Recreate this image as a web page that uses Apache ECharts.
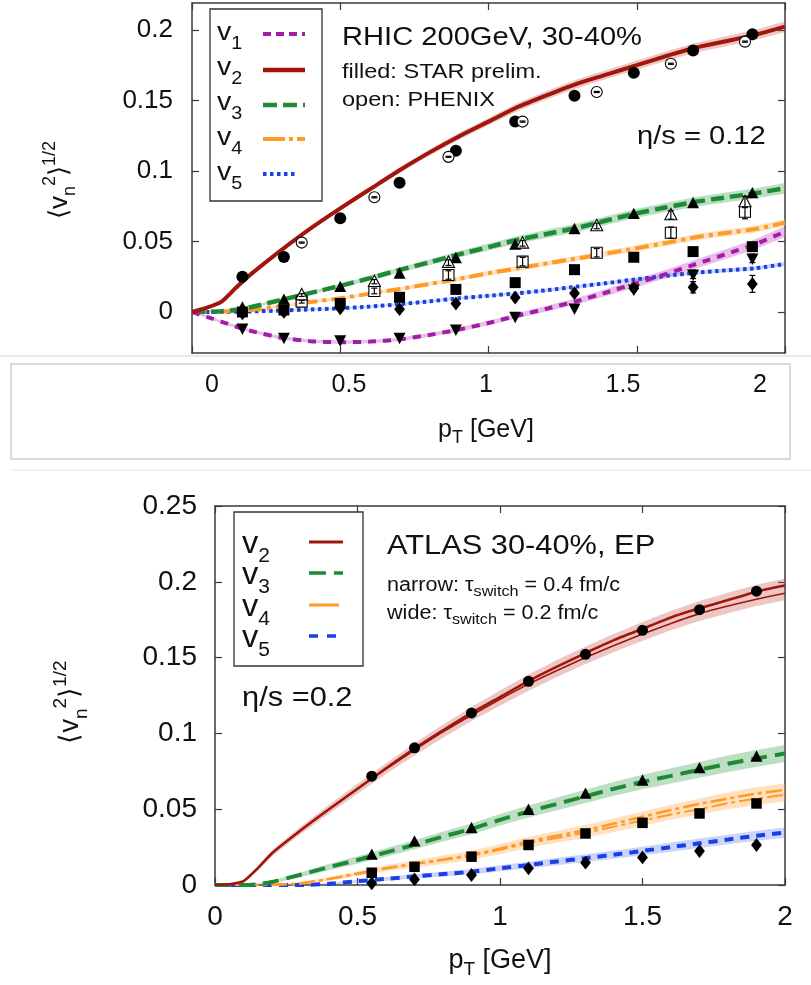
<!DOCTYPE html>
<html>
<head>
<meta charset="utf-8">
<script src="https://cdn.jsdelivr.net/npm/echarts@6/dist/echarts.min.js"></script>
<style>
html,body{margin:0;padding:0;background:#fff;}
#chart{width:811px;height:985px;}
</style>
</head>
<body>
<div id="chart"></div>
<script>
// ---------- model curves (common pT grid, GeV) ----------
const ptGrid = [0, 0.05, 0.1, 0.15, 0.2, 0.3, 0.4, 0.5, 0.6, 0.7, 0.8, 0.9, 1.0, 1.1, 1.2, 1.3, 1.4, 1.5, 1.6, 1.7, 1.8, 1.9, 2.0];

// RHIC 200 GeV, 30-40%, eta/s = 0.12
const rhicV1 = [0, -0.0035, -0.007, -0.0105, -0.0135, -0.0183, -0.0207, -0.0215, -0.021, -0.0195, -0.0163, -0.0125, -0.0078, -0.0025, 0.0025, 0.0078, 0.014, 0.0205, 0.027, 0.034, 0.041, 0.048, 0.057];
const rhicV2 = [0, 0.003, 0.0073, 0.0175, 0.027, 0.0437, 0.0593, 0.0735, 0.087, 0.1005, 0.113, 0.1245, 0.135, 0.1455, 0.154, 0.162, 0.1685, 0.175, 0.1815, 0.1875, 0.192, 0.1965, 0.2023];
const rhicV3 = [0, 0, 0.0005, 0.0015, 0.0035, 0.0085, 0.0135, 0.0185, 0.024, 0.0298, 0.0352, 0.0408, 0.046, 0.0512, 0.0555, 0.0597, 0.065, 0.070, 0.0742, 0.0782, 0.0812, 0.0842, 0.0877];
const rhicV4 = [0, 0, 0.0003, 0.0008, 0.0015, 0.004, 0.007, 0.0097, 0.013, 0.0163, 0.0198, 0.0235, 0.0275, 0.031, 0.0345, 0.038, 0.0415, 0.0452, 0.049, 0.053, 0.056, 0.0588, 0.0633];
const rhicV5 = [0, 0, 0, 0.0002, 0.0004, 0.001, 0.0018, 0.0026, 0.0038, 0.0055, 0.0075, 0.0097, 0.0115, 0.0133, 0.0155, 0.018, 0.0205, 0.0232, 0.0256, 0.0279, 0.0295, 0.031, 0.034];
// band half-widths
const rhicV1Hw = [0, 0.0008, 0.001, 0.001, 0.001, 0.0012, 0.0012, 0.0012, 0.0012, 0.0012, 0.0014, 0.0015, 0.0016, 0.0018, 0.002, 0.0022, 0.0025, 0.0028, 0.003, 0.0032, 0.0034, 0.0036, 0.0038];
const rhicV2Hw = [0, 0.0005, 0.001, 0.001, 0.0012, 0.0013, 0.0015, 0.0017, 0.0018, 0.002, 0.0022, 0.0024, 0.0026, 0.0028, 0.003, 0.0031, 0.0032, 0.0033, 0.0034, 0.0035, 0.0036, 0.0037, 0.0038];
const rhicV3Hw = [0, 0, 0.0005, 0.0007, 0.0009, 0.001, 0.0012, 0.0014, 0.0016, 0.0018, 0.002, 0.0022, 0.0025, 0.0027, 0.0029, 0.003, 0.0031, 0.0032, 0.0033, 0.0034, 0.0035, 0.0036, 0.0038];
const rhicV4Hw = [0, 0, 0.0003, 0.0005, 0.0006, 0.0008, 0.001, 0.0011, 0.0012, 0.0013, 0.0014, 0.0015, 0.0016, 0.0017, 0.0018, 0.0019, 0.002, 0.0021, 0.0022, 0.0022, 0.0023, 0.0024, 0.0024];
const rhicV5Hw = [0, 0, 0.0002, 0.0003, 0.0004, 0.0005, 0.0006, 0.0006, 0.0007, 0.0007, 0.0008, 0.0008, 0.0009, 0.0009, 0.001, 0.001, 0.0011, 0.0011, 0.0012, 0.0012, 0.0013, 0.0013, 0.0014];

// STAR preliminary (filled symbols)
const starPt = [0.17, 0.31, 0.50, 0.70, 0.89, 1.09, 1.29, 1.49, 1.69, 1.89];
const starV1 = [-0.0116, -0.0182, -0.0199, -0.0182, -0.0123, -0.0033, 0.0026, 0.016, 0.0267, 0.038];
const starV1Err = [0, 0, 0, 0, 0, 0, 0, 0.001, 0.003, 0.003];
const starV2 = [0.025, 0.039, 0.0664, 0.0917, 0.1144, 0.135, 0.1534, 0.1697, 0.1854, 0.197];
const starV3 = [0.003, 0.0085, 0.0175, 0.027, 0.038, 0.0475, 0.0586, 0.0693, 0.077, 0.084];
const starV4 = [0.0, 0.0014, 0.006, 0.0104, 0.016, 0.0208, 0.030, 0.0388, 0.0428, 0.0463];
const starV5 = [-0.001, 0.0, 0.0026, 0.002, 0.006, 0.0102, 0.0133, 0.0168, 0.0175, 0.0199];
const starV5Err = [0, 0, 0, 0, 0, 0, 0.001, 0.002, 0.004, 0.006];

// PHENIX (open symbols)
const phenixPt = [0.37, 0.615, 0.865, 1.115, 1.365, 1.615, 1.865];
const phenixV2 = [0.0492, 0.0813, 0.110, 0.135, 0.156, 0.176, 0.1917];
const phenixV2Err = [0.0004, 0.0004, 0.0004, 0.0004, 0.0004, 0.0004, 0.0004];
const phenixV3 = [0.012, 0.0215, 0.035, 0.0487, 0.061, 0.0688, 0.078];
const phenixV3Err = [0.001, 0.0015, 0.002, 0.002, 0.002, 0.003, 0.004];
const phenixV4 = [0.0073, 0.0149, 0.0262, 0.0357, 0.042, 0.0562, 0.0711];
const phenixV4Err = [0.001, 0.002, 0.003, 0.003, 0.003, 0.004, 0.005];

// ATLAS 30-40%, EP, eta/s = 0.2
const atlasPt = [0.55, 0.7, 0.9, 1.1, 1.3, 1.5, 1.7, 1.9];
const atlasV2 = [0.0718, 0.0905, 0.1135, 0.1344, 0.1522, 0.168, 0.1816, 0.1938];
const atlasV3 = [0.0198, 0.0285, 0.0373, 0.0494, 0.060, 0.0687, 0.0768, 0.0845];
const atlasV4 = [0.0081, 0.012, 0.0187, 0.0264, 0.034, 0.041, 0.0472, 0.0538];
const atlasV5 = [0.0011, 0.0037, 0.0066, 0.011, 0.0147, 0.0182, 0.0224, 0.0264];

// model: narrow = tau_switch 0.4 fm/c, wide = tau_switch 0.2 fm/c
const lhcV2Narrow = [0, 0.0005, 0.0025, 0.011, 0.021, 0.036, 0.050, 0.0635, 0.077, 0.090, 0.102, 0.1135, 0.124, 0.1345, 0.144, 0.153, 0.1615, 0.169, 0.1765, 0.1825, 0.188, 0.1935, 0.1975];
const lhcV2Wide = [0, 0.0005, 0.0025, 0.011, 0.021, 0.036, 0.050, 0.0635, 0.0765, 0.089, 0.101, 0.112, 0.1225, 0.1325, 0.1415, 0.150, 0.158, 0.1655, 0.1725, 0.179, 0.184, 0.1885, 0.1925];
const lhcV3 = [0, 0, 0, 0.0005, 0.002, 0.0068, 0.0118, 0.0165, 0.0215, 0.0265, 0.032, 0.037, 0.043, 0.0485, 0.0535, 0.0585, 0.0635, 0.068, 0.072, 0.076, 0.080, 0.0835, 0.0867];
const lhcV4Narrow = [0, 0, 0, 0, 0.0001, 0.001, 0.004, 0.0075, 0.011, 0.014, 0.0168, 0.0198, 0.024, 0.0288, 0.0325, 0.0362, 0.0405, 0.045, 0.0495, 0.0535, 0.057, 0.0603, 0.0627];
const lhcV4Wide = [0, 0, 0, 0, 0.0001, 0.001, 0.004, 0.0075, 0.011, 0.0138, 0.0165, 0.0193, 0.0233, 0.0275, 0.031, 0.0345, 0.0385, 0.0425, 0.0465, 0.050, 0.054, 0.057, 0.0595];
const lhcV5 = [0, 0, 0, 0, 0, 0, 0.0008, 0.0025, 0.004, 0.0057, 0.0072, 0.0088, 0.011, 0.0132, 0.0155, 0.0177, 0.020, 0.0225, 0.025, 0.0275, 0.030, 0.0325, 0.0345];
const lhcV2Hw = [0, 0.0005, 0.001, 0.0015, 0.002, 0.0025, 0.003, 0.0033, 0.0036, 0.004, 0.0043, 0.0046, 0.005, 0.0053, 0.0056, 0.0058, 0.006, 0.0062, 0.0064, 0.0066, 0.0068, 0.007, 0.0072];
const lhcV3Hw = [0, 0, 0, 0.0005, 0.001, 0.0015, 0.002, 0.0025, 0.0028, 0.003, 0.0033, 0.0035, 0.0038, 0.004, 0.0042, 0.0044, 0.0046, 0.0048, 0.005, 0.0052, 0.0054, 0.0055, 0.0056];
const lhcV4Hw = [0, 0, 0, 0, 0.0003, 0.0008, 0.0012, 0.0016, 0.002, 0.0024, 0.0028, 0.003, 0.0033, 0.0036, 0.0039, 0.0042, 0.0045, 0.0048, 0.005, 0.0053, 0.0056, 0.0058, 0.006];
const lhcV5Hw = [0, 0, 0, 0, 0, 0.0003, 0.0006, 0.001, 0.0012, 0.0014, 0.0016, 0.0018, 0.002, 0.0022, 0.0024, 0.0026, 0.0027, 0.0028, 0.003, 0.0031, 0.0032, 0.0033, 0.0034];

// tick labels
const rhicYTicks = [0, 0.05, 0.1, 0.15, 0.2];

// ---------- styling ----------
const FONT = '"Liberation Sans", Arial, Helvetica, sans-serif';
const INK = '#111';
const C = {
  v1: '#a21ca6', v2: '#a0160c', v3: '#1f8a36', v4: '#ff9b26', v5: '#1b3fe6',
  b1: 'rgba(205,110,210,0.45)', b2: 'rgba(200,80,70,0.32)', b3: 'rgba(80,170,100,0.38)',
  b4: 'rgba(255,170,80,0.35)', b5: 'rgba(90,125,235,0.32)'
};

function avg(a, b) { return a.map((v, i) => (v + b[i]) / 2); }

function band(xi, yi, xs, mid, hw, color) {
  const lo = mid.map((v, i) => v - hw[i]);
  const hi = mid.map((v, i) => v + hw[i]);
  return {
    type: 'custom', xAxisIndex: xi, yAxisIndex: yi, z: 1, silent: true, clip: true,
    data: xs.map((x, i) => [x, lo[i], hi[i]]),
    renderItem(params, api) {
      if (params.dataIndex !== 0) return null;
      const pts = [];
      for (let i = 0; i < xs.length; i++) pts.push(api.coord([xs[i], hi[i]]));
      for (let i = xs.length - 1; i >= 0; i--) pts.push(api.coord([xs[i], lo[i]]));
      return { type: 'polygon', shape: { points: pts }, style: { fill: color } };
    }
  };
}

function curve(xi, yi, xs, ys, color, width, dash, z) {
  return {
    type: 'line', xAxisIndex: xi, yAxisIndex: yi, z: z || 3, silent: true,
    data: xs.map((x, i) => [x, ys[i]]),
    showSymbol: false, symbol: 'none', smooth: 0.2,
    lineStyle: { color: color, width: width, type: dash || 'solid', cap: 'butt' }
  };
}

function markers(xi, yi, xs, ys, errs, shape, open, size) {
  return {
    type: 'custom', xAxisIndex: xi, yAxisIndex: yi, z: 6, silent: true, clip: false,
    data: xs.map((x, i) => [x, ys[i], errs ? errs[i] : 0]),
    renderItem(params, api) {
      const x = api.value(0), y = api.value(1), e = api.value(2);
      const p = api.coord([x, y]);
      const cx = p[0], cy = p[1], r = size / 2;
      const st = open ? { fill: '#fff', stroke: '#000', lineWidth: 1.1 } : { fill: '#000' };
      let shp;
      if (shape === 'circle') {
        shp = { type: 'circle', shape: { cx: cx, cy: cy, r: r }, style: st };
      } else if (shape === 'square') {
        shp = { type: 'rect', shape: { x: cx - r, y: cy - r, width: 2 * r, height: 2 * r }, style: st };
      } else if (shape === 'triangle') {
        shp = { type: 'polygon', shape: { points: [[cx, cy - r * 1.1], [cx + r, cy + r * 0.8], [cx - r, cy + r * 0.8]] }, style: st };
      } else if (shape === 'triangleDown') {
        shp = { type: 'polygon', shape: { points: [[cx, cy + r * 1.1], [cx + r, cy - r * 0.8], [cx - r, cy - r * 0.8]] }, style: st };
      } else {
        shp = { type: 'polygon', shape: { points: [[cx, cy - r * 1.15], [cx + r * 0.9, cy], [cx, cy + r * 1.15], [cx - r * 0.9, cy]] }, style: st };
      }
      const bars = [];
      if (e > 0) {
        const t = api.coord([x, y + e])[1], b = api.coord([x, y - e])[1];
        const ls = { stroke: '#000', lineWidth: 1.2 };
        bars.push({ type: 'line', shape: { x1: cx, y1: t, x2: cx, y2: b }, style: ls });
        bars.push({ type: 'line', shape: { x1: cx - 3, y1: t, x2: cx + 3, y2: t }, style: ls });
        bars.push({ type: 'line', shape: { x1: cx - 3, y1: b, x2: cx + 3, y2: b }, style: ls });
      }
      return { type: 'group', children: open ? [shp].concat(bars) : bars.concat([shp]) };
    }
  };
}

// rich-text styles: m = main, b = subscript, t = superscript
function rich(S, s, L, Ls) {
  const base = { fontFamily: FONT, fill: INK, color: INK };
  return {
    m: Object.assign({ fontSize: S, lineHeight: L }, base),
    b: Object.assign({ fontSize: s, lineHeight: Ls, verticalAlign: 'bottom' }, base),
    t: Object.assign({ fontSize: s, lineHeight: Ls, verticalAlign: 'top' }, base)
  };
}

function label(x, y, text, S, s, L, Ls, opt) {
  opt = opt || {};
  return {
    type: 'text', x: x, y: y, z: 20, silent: true,
    scaleX: opt.scaleX || 1, rotation: opt.rotation || 0,
    style: {
      text: text, rich: rich(S, s, L, Ls), fontFamily: FONT, fontSize: S, fill: INK,
      align: opt.align || 'left', verticalAlign: 'middle',
      textAlign: opt.align || 'left', textVerticalAlign: 'middle'
    }
  };
}

function sample(x1, x2, y, color, width, dash) {
  return { type: 'line', z: 20, silent: true, shape: { x1: x1, y1: y, x2: x2, y2: y },
    style: { stroke: color, lineWidth: width, lineDash: dash || null, lineCap: 'butt' } };
}

const axLine = { onZero: false, lineStyle: { color: '#3a3a3a', width: 1.5 } };
const axTick = { inside: true, length: 7, lineStyle: { color: '#3a3a3a', width: 1.2 } };
const tickLabel = (size, margin) => ({ fontSize: size, fontFamily: FONT, color: INK, margin: margin });
const fmt = v => String(+(+v).toFixed(2));

const ptName = '{m|p}{b|T}{m| [GeV]}';

const option = {
  animation: false,
  backgroundColor: '#fff',
  grid: [
    { left: 192, top: 3, width: 593, height: 350 },
    { left: 212, top: 360, width: 548, height: 1 },
    { left: 215, top: 506, width: 570, height: 379 }
  ],
  xAxis: [
    { gridIndex: 0, type: 'value', min: 0, max: 2, interval: 0.5, axisLine: axLine, axisTick: axTick,
      axisLabel: { show: false }, splitLine: { show: false } },
    { gridIndex: 0, type: 'value', position: 'top', min: 0, max: 2, interval: 0.5, axisLine: axLine, axisTick: axTick,
      axisLabel: { show: false }, splitLine: { show: false } },
    { gridIndex: 1, type: 'value', min: 0, max: 2, interval: 0.5, axisLine: { show: false }, axisTick: { show: false },
      splitLine: { show: false }, axisLabel: Object.assign(tickLabel(25, 12), { formatter: fmt }),
      name: ptName, nameLocation: 'middle', nameGap: 52, nameTextStyle: { rich: rich(25, 18, 34, 18) } },
    { gridIndex: 2, type: 'value', min: 0, max: 2, interval: 0.5, axisLine: axLine, axisTick: axTick,
      splitLine: { show: false }, axisLabel: Object.assign(tickLabel(28, 18), { formatter: fmt }),
      name: ptName, nameLocation: 'middle', nameGap: 58, nameTextStyle: { rich: rich(27, 19, 36, 19) } },
    { gridIndex: 2, type: 'value', position: 'top', min: 0, max: 2, interval: 0.5, axisLine: axLine, axisTick: axTick,
      axisLabel: { show: false }, splitLine: { show: false } }
  ],
  yAxis: [
    { gridIndex: 0, type: 'value', min: -0.0291, max: 0.2191, axisLine: axLine,
      axisTick: Object.assign({ customValues: rhicYTicks }, axTick),
      axisLabel: Object.assign(tickLabel(26, 19), { customValues: rhicYTicks, formatter: fmt }),
      splitLine: { show: false } },
    { gridIndex: 0, type: 'value', position: 'right', min: -0.0291, max: 0.2191, axisLine: axLine,
      axisTick: Object.assign({ customValues: rhicYTicks }, axTick), axisLabel: { show: false }, splitLine: { show: false } },
    { gridIndex: 1, type: 'value', show: false, min: 0, max: 1 },
    { gridIndex: 2, type: 'value', min: 0, max: 0.25, interval: 0.05, axisLine: axLine, axisTick: axTick,
      axisLabel: Object.assign(tickLabel(28, 18), { formatter: fmt }), splitLine: { show: false } },
    { gridIndex: 2, type: 'value', position: 'right', min: 0, max: 0.25, interval: 0.05, axisLine: axLine, axisTick: axTick,
      axisLabel: { show: false }, splitLine: { show: false } }
  ],
  series: [
    // RHIC bands
    band(0, 0, ptGrid, rhicV1, rhicV1Hw, C.b1),
    band(0, 0, ptGrid, rhicV2, rhicV2Hw, C.b2),
    band(0, 0, ptGrid, rhicV3, rhicV3Hw, C.b3),
    band(0, 0, ptGrid, rhicV4, rhicV4Hw, C.b4),
    band(0, 0, ptGrid, rhicV5, rhicV5Hw, C.b5),
    // RHIC curves
    curve(0, 0, ptGrid, rhicV5, C.v5, 4, [3.5, 3.5]),
    curve(0, 0, ptGrid, rhicV4, C.v4, 4, [14, 5, 4, 5]),
    curve(0, 0, ptGrid, rhicV3, C.v3, 4.5, [13, 6]),
    curve(0, 0, ptGrid, rhicV1, C.v1, 4, [8, 7]),
    curve(0, 0, ptGrid, rhicV2, C.v2, 4),
    // STAR
    markers(0, 0, starPt, starV5, starV5Err, 'diamond', false, 12),
    markers(0, 0, starPt, starV4, null, 'square', false, 11),
    markers(0, 0, starPt, starV3, null, 'triangle', false, 12),
    markers(0, 0, starPt, starV1, starV1Err, 'triangleDown', false, 12),
    markers(0, 0, starPt, starV2, null, 'circle', false, 12),
    // PHENIX
    markers(0, 0, phenixPt, phenixV4, phenixV4Err, 'square', true, 11),
    markers(0, 0, phenixPt, phenixV3, phenixV3Err, 'triangle', true, 12),
    markers(0, 0, phenixPt, phenixV2, phenixV2Err, 'circle', true, 11),

    // ATLAS bands
    band(3, 3, ptGrid, avg(lhcV2Narrow, lhcV2Wide), lhcV2Hw, C.b2),
    band(3, 3, ptGrid, lhcV3, lhcV3Hw, C.b3),
    band(3, 3, ptGrid, avg(lhcV4Narrow, lhcV4Wide), lhcV4Hw, C.b4),
    band(3, 3, ptGrid, lhcV5, lhcV5Hw, C.b5),
    // model curves
    curve(3, 3, ptGrid, lhcV5, C.v5, 4, [9, 7]),
    curve(3, 3, ptGrid, lhcV4Wide, C.v4, 2, [16, 4, 4, 4]),
    curve(3, 3, ptGrid, lhcV4Narrow, C.v4, 2.6, [16, 4, 4, 4]),
    curve(3, 3, ptGrid, lhcV3, C.v3, 4, [16, 8]),
    curve(3, 3, ptGrid, lhcV2Wide, C.v2, 1.6),
    curve(3, 3, ptGrid, lhcV2Narrow, C.v2, 2.6),
    // ATLAS data
    markers(3, 3, atlasPt, atlasV5, null, 'diamond', false, 12),
    markers(3, 3, atlasPt, atlasV4, null, 'square', false, 10.5),
    markers(3, 3, atlasPt, atlasV3, null, 'triangle', false, 12),
    markers(3, 3, atlasPt, atlasV2, null, 'circle', false, 11)
  ],
  graphic: [
    // panel separators and the axis-label strip
    { type: 'line', silent: true, shape: { x1: 0, y1: 356, x2: 811, y2: 356 }, style: { stroke: '#e2e2e2', lineWidth: 1.5 } },
    { type: 'rect', silent: true, shape: { x: 11, y: 364, width: 779, height: 95 }, style: { fill: 'none', stroke: '#cdcdcd', lineWidth: 1.5 } },
    { type: 'line', silent: true, shape: { x1: 11, y1: 470, x2: 811, y2: 470 }, style: { stroke: '#eeeeee', lineWidth: 1.5 } },

    // y-axis titles
    label(60, 180, '{m|⟨v}{b|n}{t|2}{m|⟩}{t|1/2}', 26, 18, 38, 18, { align: 'center', rotation: Math.PI / 2 }),
    label(71, 702, '{m|⟨v}{b|n}{t|2}{m|⟩}{t|1/2}', 27, 19, 40, 19, { align: 'center', rotation: Math.PI / 2 }),

    // RHIC legend
    { type: 'rect', z: 19, silent: true, shape: { x: 210, y: 9, width: 112, height: 192 }, style: { fill: '#fff', stroke: '#333', lineWidth: 1.3 } },
    label(217, 33, '{m|v}{b|1}', 26, 18, 40, 18, { scaleX: 1.1 }),
    label(217, 68, '{m|v}{b|2}', 26, 18, 40, 18, { scaleX: 1.1 }),
    label(217, 103, '{m|v}{b|3}', 26, 18, 40, 18, { scaleX: 1.1 }),
    label(217, 138, '{m|v}{b|4}', 26, 18, 40, 18, { scaleX: 1.1 }),
    label(217, 173, '{m|v}{b|5}', 26, 18, 40, 18, { scaleX: 1.1 }),
    sample(263, 305, 34, C.v1, 4, [8, 5]),
    sample(263, 305, 70, C.v2, 4.5),
    sample(263, 305, 105, C.v3, 4.5, [14, 6]),
    sample(263, 305, 139, C.v4, 4, [22, 4, 4, 4]),
    sample(263, 298, 174, C.v5, 4, [3.5, 3.5]),

    // RHIC annotations
    label(342, 38, '{m|RHIC 200GeV, 30-40%}', 26, 18, 30, 18, { scaleX: 1.12 }),
    label(342, 72, '{m|filled: STAR prelim.}', 21, 15, 26, 15, { scaleX: 1.12 }),
    label(342, 100, '{m|open: PHENIX}', 21, 15, 26, 15, { scaleX: 1.12 }),
    label(637, 137, '{m|η/s = 0.12}', 26, 18, 30, 18, { scaleX: 1.12 }),

    // ATLAS legend
    { type: 'rect', z: 19, silent: true, shape: { x: 234, y: 512, width: 129, height: 154 }, style: { fill: '#fff', stroke: '#333', lineWidth: 1.3 } },
    label(242, 544, '{m|v}{b|2}', 31, 20, 44, 20, { scaleX: 1.05 }),
    label(242, 575, '{m|v}{b|3}', 31, 20, 44, 20, { scaleX: 1.05 }),
    label(242, 607, '{m|v}{b|4}', 31, 20, 44, 20, { scaleX: 1.05 }),
    label(242, 638, '{m|v}{b|5}', 31, 20, 44, 20, { scaleX: 1.05 }),
    sample(309, 343, 542, C.v2, 3),
    sample(309, 343, 573, C.v3, 3.5, [17, 8]),
    sample(309, 339, 605, C.v4, 3),
    sample(309, 340, 636, C.v5, 3.5, [9, 9]),

    // ATLAS annotations
    label(387, 546, '{m|ATLAS 30-40%, EP}', 28, 20, 32, 20, { scaleX: 1.1 }),
    label(387, 585, '{m|narrow: τ}{b|switch}{m| = 0.4 fm/c}', 20, 15, 28, 15, { scaleX: 1.08 }),
    label(387, 613, '{m|wide: τ}{b|switch}{m| = 0.2 fm/c}', 20, 15, 28, 15, { scaleX: 1.08 }),
    label(242, 698, '{m|η/s =0.2}', 28, 20, 32, 20, { scaleX: 1.1 })
  ]
};

const chart = echarts.init(document.getElementById('chart'), null, { renderer: 'canvas' });
chart.setOption(option);
</script>
</body>
</html>
